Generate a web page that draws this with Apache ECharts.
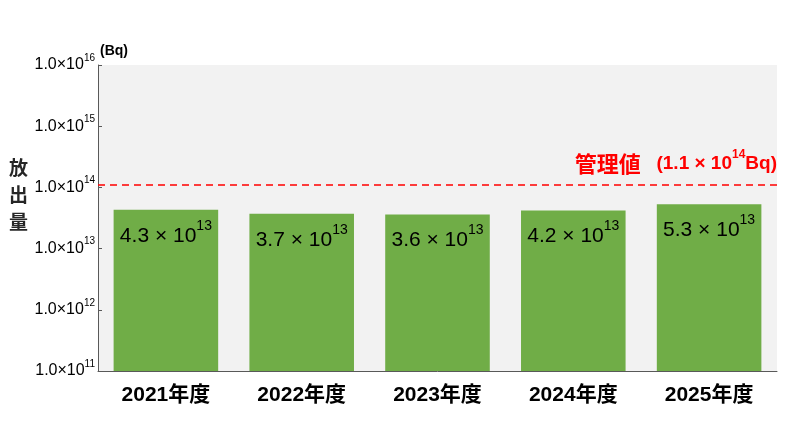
<!DOCTYPE html>
<html><head><meta charset="utf-8">
<script src="https://cdn.jsdelivr.net/npm/echarts@6/dist/echarts.min.js"></script>
<style>html,body{margin:0;padding:0;background:#fff}#c{width:800px;height:428px}</style>
</head><body><div id="c"></div>
<script>
const categories = ['2021年度','2022年度','2023年度','2024年度','2025年度'];
const releases = [4.3e13, 3.7e13, 3.6e13, 4.2e13, 5.3e13];
const limitValue = 1.1e14;
const limitText = '管理値';
const yMin = 1e11, yMax = 1e16;

function expOf(v){ return Math.floor(Math.log10(v) + 1e-9); }
function mantOf(v){ return v / Math.pow(10, expOf(v)); }

const chart = echarts.init(document.getElementById('c'));
chart.setOption({
  animation: false,
  grid: {left: 98, right: 23, top: 65, bottom: 57, show: true, backgroundColor: '#f2f2f2', borderWidth: 0},
  xAxis: {
    type: 'category', data: categories,
    axisLine: {lineStyle: {color: '#595959', width: 1}},
    axisTick: {inside: true, length: 5, lineStyle: {color: '#595959'}},
    axisLabel: {color: '#000', fontSize: 21, fontWeight: 'bold', margin: 14, fontFamily: 'Liberation Sans, Noto Sans CJK JP'}
  },
  yAxis: {
    type: 'log', min: yMin, max: yMax, logBase: 10,
    axisLine: {show: true, lineStyle: {color: '#595959', width: 1}},
    axisTick: {show: true, inside: true, length: 4, lineStyle: {color: '#595959'}},
    splitLine: {show: false},
    axisLabel: {
      margin: 3,
      formatter: function(v){ return '{b|1.0×10}{s|' + expOf(v) + '}'; },
      rich: {
        b: {fontSize: 16, color: '#000', fontFamily: 'Liberation Sans Narrow, Liberation Sans', letterSpacing: -0.8},
        s: {fontSize: 10, color: '#000', fontFamily: 'Liberation Sans', padding: [0,0,14,0]}
      }
    }
  },
  series: [{
    type: 'bar', data: releases, barCategoryGap: '23%',
    itemStyle: {color: '#70ad47'},
    label: {
      show: true, position: 'insideTop', distance: 9,
      formatter: function(p){ return '{m|' + mantOf(p.value).toFixed(1) + ' × 10}{s|' + expOf(p.value) + '}'; },
      rich: {
        m: {fontSize: 21, color: '#000', fontFamily: 'Liberation Sans'},
        s: {fontSize: 14, color: '#000', fontFamily: 'Liberation Sans', padding: [0,0,20,0]}
      }
    },
    markLine: {
      silent: true, symbol: 'none',
      lineStyle: {color: '#ff0000', type: [7,5], width: 1.5},
      label: {
        position: 'insideEndTop', distance: [0, 7],
        formatter: function(){ const v = limitValue; return '{c|' + limitText + '}{r|   (' + mantOf(v).toFixed(1) + ' × 10}{s|' + expOf(v) + '}{q|Bq)}'; },
        rich: {
          c: {fontSize: 22, fontWeight: 'bold', color: '#ff0000', fontFamily: 'Noto Sans CJK JP'},
          r: {fontSize: 19, fontWeight: 'bold', color: '#ff0000', fontFamily: 'Liberation Sans'},
          q: {fontSize: 19, fontWeight: 'bold', color: '#ff0000', fontFamily: 'Liberation Sans', letterSpacing: 1.5},
          s: {fontSize: 12, fontWeight: 'bold', color: '#ff0000', fontFamily: 'Liberation Sans', padding: [0,0,17,0]}
        }
      },
      data: [{yAxis: limitValue}]
    }
  }],
  graphic: [
    {type: 'text', left: 9, top: 154, style: {text: '放\n出\n量', fontSize: 19, lineHeight: 27, fontWeight: 'bold', fill: '#262626', fontFamily: 'Noto Sans CJK JP'}},
    {type: 'text', left: 100, top: 44, style: {text: '(Bq)', fontSize: 14, fontWeight: 'bold', fill: '#000', fontFamily: 'Liberation Sans'}}
  ]
});
</script></body></html>
